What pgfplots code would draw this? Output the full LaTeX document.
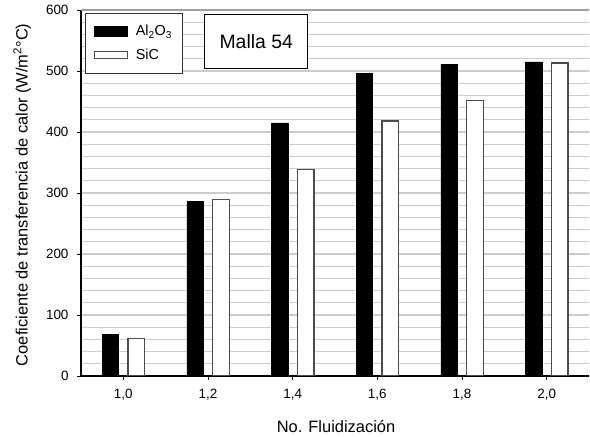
\documentclass[border=0pt]{standalone}
\usepackage{fontspec}
\setmainfont{Liberation Sans}
\usepackage{pgfplots}
\pgfplotsset{compat=1.18}
\pgfplotsset{
  alimg/.style={legend image code/.code={\draw[##1, line width=1bp] (0bp,-5bp) rectangle (33bp,5bp); \path (39bp,0bp);}},
  sicimg/.style={legend image code/.code={\draw[##1, line width=1.2bp] (0bp,-3.5bp) rectangle (33bp,3.5bp); \path (39bp,0bp);}},
}
\begin{document}
\begin{tikzpicture}[x=1bp,y=1bp]
\path[use as bounding box] (-81,-61) rectangle (509,376);
\begin{axis}[at={(0,0)}, anchor=south west, scale only axis,
  width=508bp, height=366bp,
  xmin=-0.5, xmax=5.5, ymin=0, ymax=600,
  xtick={0,...,5}, xticklabels={{1,0},{1,2},{1,4},{1,6},{1,8},{2,0}},
  ytick={0,100,...,600}, minor ytick={20,40,...,580},
  ymajorgrids, yminorgrids,
  grid style={gray!40, line width=1.3bp},
  major grid style={gray!40, line width=1.3bp},
  minor grid style={gray!40, line width=1.3bp},
  tick align=outside, xtick pos=bottom, ytick pos=left,
  major tick length=4bp, minor tick length=0bp,
  tick style={black, line width=0.8bp},
  axis x line*=bottom, axis y line*=left,
  axis line style={black, line width=1.2bp, -},
  ticklabel style={font=\fontsize{13.5}{15}\selectfont},
  xticklabel style={yshift=-6bp},
  yticklabel style={xshift=-5bp},
  /pgf/number format/assume math mode=true,
  xlabel={No. Fluidización},
  ylabel={Coeficiente de transferencia de calor (W/m\textsuperscript{2}°C)},
  label style={font=\fontsize{16.5}{18}\selectfont},
  xlabel style={at={(axis description cs:0.502,-0.139)}, anchor=center},
  ylabel style={at={(axis description cs:-0.116,0.495)}, anchor=center},
  ybar, bar width=16.5bp,
  legend style={at={(0.008,0.992)}, anchor=north west, draw=black!80,
    line width=1bp, inner xsep=8bp, inner ysep=10bp, row sep=8bp,
    font=\fontsize{14.5}{16}\selectfont, cells={anchor=west}},
]
\addplot[fill=black, draw=black, bar shift=-13bp, alimg] coordinates {(0,68) (1,286) (2,415) (3,496) (4,511) (5,515)};
\addlegendentry{Al\textsubscript{2}O\textsubscript{3}}
\addplot[fill=white, draw=black!70, line width=1.2bp, bar shift=13bp, sicimg]
  coordinates {(0,62) (1,289) (2,338) (3,418) (4,452) (5,513)};
\addlegendentry{SiC}
\draw[gray!75, line width=1.6bp] (rel axis cs:0,1) -- (rel axis cs:1,1);
\node[draw=black, line width=1bp, fill=white, minimum width=103bp, minimum height=54bp,
  font=\fontsize{19.5}{22}\selectfont] at (rel axis cs:0.345,0.915) {Malla 54};
\end{axis}
\end{tikzpicture}
\end{document}
